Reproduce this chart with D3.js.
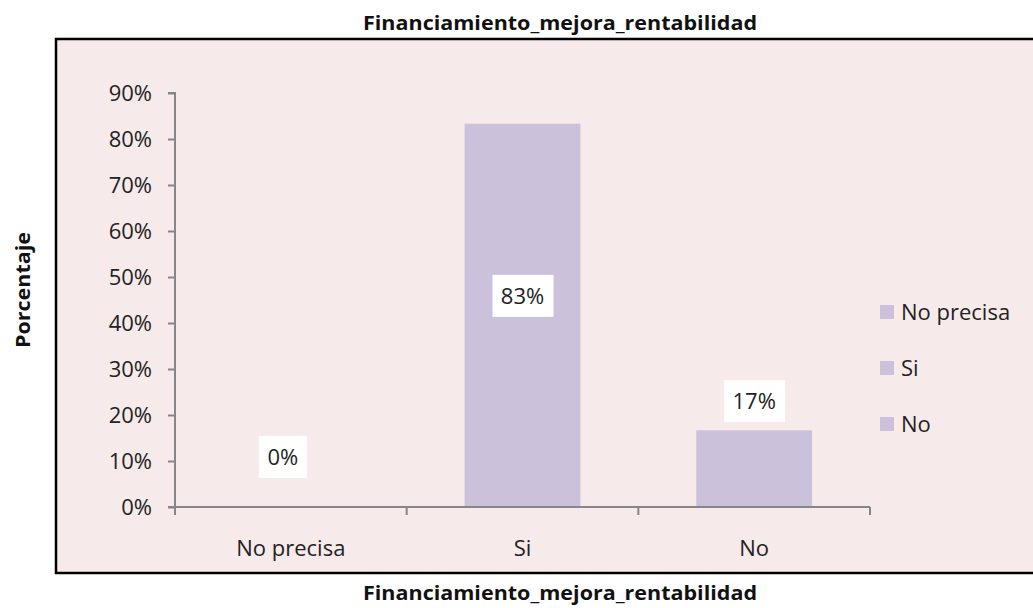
<!DOCTYPE html>
<html>
<head>
<meta charset="utf-8">
<script src="https://cdn.jsdelivr.net/npm/d3@7"></script>
<style>
body { margin: 0; background: #fff; }
svg { display: block; font-family: "Open Sans", sans-serif; }
</style>
</head>
<body>
<svg width="1033" height="608"></svg>
<script>
var categories = ["No precisa", "Si", "No"];
var values = [0, 83.33, 16.67];
var valueLabels = ["0%", "83%", "17%"];
var yTicks = [0, 10, 20, 30, 40, 50, 60, 70, 80, 90];
// where each data label sits, in value units
var labelAnchor = [10.9, 45.9, 23.0];

var svg = d3.select("svg");

// chart frame
svg.append("rect")
    .attr("x", 56).attr("y", 39)
    .attr("width", 1000).attr("height", 534)
    .style("fill", "#f7eaea")
    .style("stroke", "#000")
    .style("stroke-width", 2.5);

var x = d3.scaleBand().domain(categories).range([175, 870]).paddingInner(0.5).paddingOuter(0.25);
var xEdge = d3.scaleBand().domain(categories).range([175, 870]);
var y = d3.scaleLinear().domain([0, 90]).range([507, 93]);

// bars
svg.selectAll("rect.bar")
    .data(values)
    .enter().append("rect")
    .attr("class", "bar")
    .attr("x", function(d, i) { return x(categories[i]); })
    .attr("width", x.bandwidth())
    .attr("y", function(d) { return y(d); })
    .attr("height", function(d) { return y(0) - y(d); })
    .style("fill", "#ccc1db");

// y axis
var yAxis = d3.axisLeft(y).tickValues(yTicks).tickSize(7).tickPadding(16)
    .tickFormat(function(d) { return d + "%"; });
var gy = svg.append("g").attr("transform", "translate(175,0)").call(yAxis);
gy.select(".domain").attr("d", "M-7,93H0V507H-7").style("stroke", "#868686").style("stroke-width", 2);
gy.selectAll(".tick line").style("stroke", "#868686").style("stroke-width", 2);
gy.selectAll(".tick text").style("font-size", "22px").style("fill", "#222").style("font-family", "Open Sans");

// x axis
var gx = svg.append("g").attr("transform", "translate(0,507)");
gx.append("line").attr("x1", 168).attr("x2", 870).attr("y1", 0).attr("y2", 0)
    .style("stroke", "#868686").style("stroke-width", 2);
var edges = categories.map(function(c) { return xEdge(c); }).concat([870]);
gx.selectAll("line.tk").data(edges).enter().append("line")
    .attr("class", "tk")
    .attr("x1", function(d) { return d; }).attr("x2", function(d) { return d; })
    .attr("y1", 0).attr("y2", 8)
    .style("stroke", "#868686").style("stroke-width", 2);
gx.selectAll("text").data(categories).enter().append("text")
    .attr("x", function(d) { return xEdge(d) + xEdge.bandwidth() / 2; })
    .attr("y", 49)
    .attr("text-anchor", "middle")
    .style("font-size", "22px").style("fill", "#222")
    .text(function(d) { return d; });

// data labels
var lab = svg.selectAll("g.lab").data(values).enter().append("g")
    .attr("class", "lab")
    .attr("transform", function(d, i) {
        return "translate(" + (x(categories[i]) + x.bandwidth() / 2) + "," + y(labelAnchor[i]) + ")";
    });
lab.append("rect")
    .attr("x", function(d, i) { return i == 0 ? -32 : -30; })
    .attr("width", function(d, i) { return i == 0 ? 48 : 61; })
    .attr("y", -21).attr("height", 42)
    .style("fill", "#fff");
lab.append("text")
    .attr("x", function(d, i) { return i == 0 ? -8 : 0; })
    .attr("y", 8)
    .attr("text-anchor", "middle")
    .style("font-size", "22px").style("fill", "#222")
    .text(function(d, i) { return valueLabels[i]; });

// legend
var leg = svg.selectAll("g.leg").data(categories).enter().append("g")
    .attr("class", "leg")
    .attr("transform", function(d, i) { return "translate(880," + (312 + i * 56) + ")"; });
leg.append("rect").attr("x", 0).attr("y", -7).attr("width", 14).attr("height", 14).style("fill", "#ccc1db");
leg.append("text").attr("x", 21).attr("y", 8)
    .style("font-size", "22px").style("fill", "#222")
    .text(function(d) { return d; });

// titles
svg.append("text").attr("x", 560).attr("y", 30).attr("text-anchor", "middle")
    .attr("textLength", 394).attr("lengthAdjust", "spacingAndGlyphs")
    .style("font-size", "19px").style("font-weight", "bold").style("fill", "#111")
    .text("Financiamiento_mejora_rentabilidad");
svg.append("text").attr("x", 560).attr("y", 600).attr("text-anchor", "middle")
    .attr("textLength", 394).attr("lengthAdjust", "spacingAndGlyphs")
    .style("font-size", "19px").style("font-weight", "bold").style("fill", "#111")
    .text("Financiamiento_mejora_rentabilidad");
svg.append("text").attr("transform", "translate(30,290) rotate(-90)").attr("text-anchor", "middle")
    .attr("textLength", 116).attr("lengthAdjust", "spacingAndGlyphs")
    .style("font-size", "19px").style("font-weight", "bold").style("fill", "#111")
    .text("Porcentaje");
</script>
</body>
</html>
